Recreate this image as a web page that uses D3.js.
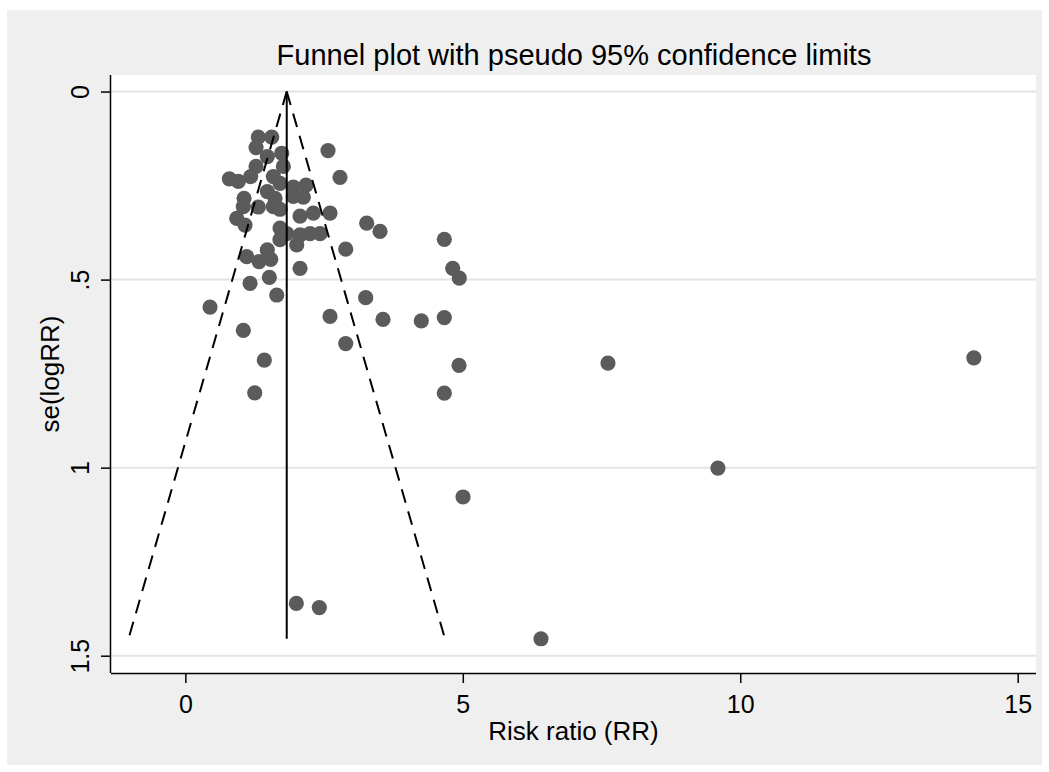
<!DOCTYPE html>
<html>
<head>
<meta charset="utf-8">
<script src="https://cdn.jsdelivr.net/npm/d3@7"></script>
<style>
  html, body { margin: 0; padding: 0; background: #ffffff; }
  svg { display: block; font-family: "Liberation Sans", Arial, sans-serif; }
</style>
</head>
<body>
<svg id="chart" width="1049" height="772"></svg>
<script>
// Study-level risk ratios and their standard errors of log(RR)
const riskRatio = [
  1.315, 1.557, 1.274, 2.571, 1.737, 1.477, 1.766, 1.274, 2.787, 0.793,
  0.955, 1.178, 1.586, 1.706, 1.946, 2.175, 1.477, 1.616, 1.946, 2.126,
  1.058, 1.045, 1.315, 1.586, 1.706, 2.067, 2.306, 2.607, 0.926, 1.076,
  3.268, 3.508, 1.706, 1.827, 2.067, 2.247, 2.427, 1.706, 2.007, 2.890,
  4.667, 1.106, 1.328, 1.477, 1.539, 2.067, 4.818, 4.937, 1.514, 1.166,
  1.647, 3.250, 0.445, 2.607, 3.562, 4.252, 4.667, 1.045, 2.890, 1.423,
  4.932, 7.616, 14.21, 1.250, 4.667, 9.598, 5.004, 2.000, 2.414, 6.409
];
const seLogRR = [
  0.121, 0.121, 0.149, 0.157, 0.164, 0.173, 0.199, 0.199, 0.228, 0.232,
  0.239, 0.226, 0.226, 0.244, 0.254, 0.249, 0.266, 0.284, 0.279, 0.281,
  0.284, 0.306, 0.307, 0.306, 0.313, 0.331, 0.323, 0.323, 0.337, 0.355,
  0.350, 0.372, 0.363, 0.378, 0.381, 0.378, 0.378, 0.394, 0.408, 0.419,
  0.393, 0.439, 0.452, 0.421, 0.446, 0.470, 0.470, 0.496, 0.494, 0.510,
  0.541, 0.548, 0.573, 0.598, 0.606, 0.610, 0.601, 0.635, 0.670, 0.714,
  0.728, 0.722, 0.708, 0.801, 0.802, 1.001, 1.078, 1.361, 1.372, 1.455
];
// Pooled estimate the funnel is centred on
const pooledRR = 1.827;
const zCrit = 1.96;

const xTicks = [0, 5, 10, 15];
const xTickLabels = ["0", "5", "10", "15"];
const yTicks = [0, 0.5, 1, 1.5];
const yTickLabels = ["0", ".5", "1", "1.5"];

const titleText = "Funnel plot with pseudo 95% confidence limits";
const xTitle = "Risk ratio (RR)";
const yTitle = "se(logRR)";

const svg = d3.select("#chart");
const W = 1049, H = 772;

// Graph region (light gray) and plot region (white)
svg.append("rect").attr("x", 7).attr("y", 10).attr("width", 1035).attr("height", 755)
  .attr("fill", "#efefef");

const plot = { left: 111, top: 75, right: 1036, bottom: 673 };
svg.append("rect")
  .attr("x", plot.left).attr("y", plot.top)
  .attr("width", plot.right - plot.left).attr("height", plot.bottom - plot.top)
  .attr("fill", "#ffffff");

const x = d3.scaleLinear().domain([-1.34, 15.33]).range([plot.left, plot.right]);
const y = d3.scaleLinear().domain([-0.044, 1.546]).range([plot.top, plot.bottom]);

// Horizontal grid lines
svg.append("g").selectAll("line").data(yTicks).join("line")
  .attr("x1", plot.left).attr("x2", plot.right)
  .attr("y1", d => y(d)).attr("y2", d => y(d))
  .attr("stroke", "#e4e4e4").attr("stroke-width", 2);

// Study markers
const pts = riskRatio.map((r, i) => ({ rr: r, se: seLogRR[i] }));
svg.append("g").selectAll("circle").data(pts).join("circle")
  .attr("cx", d => x(d.rr)).attr("cy", d => y(d.se))
  .attr("r", 7.6).attr("fill", "#5b5b5b");

// Pseudo 95% confidence limits and pooled estimate line
const maxSe = d3.max(seLogRR);
const seLine = [0, maxSe];
const line = d3.line().x(d => x(d[0])).y(d => y(d[1]));
const gL = svg.append("g").attr("fill", "none").attr("stroke", "#000");
gL.append("path")
  .attr("d", line(seLine.map(s => [pooledRR - zCrit * s, s])))
  .attr("stroke-width", 2).attr("stroke-dasharray", "14,9");
gL.append("path")
  .attr("d", line(seLine.map(s => [pooledRR + zCrit * s, s])))
  .attr("stroke-width", 2).attr("stroke-dasharray", "14,9");
gL.append("path")
  .attr("d", line(seLine.map(s => [pooledRR, s])))
  .attr("stroke-width", 2);

// Axes
const xAxis = d3.axisBottom(x).tickValues(xTicks)
  .tickFormat((d, i) => xTickLabels[i]).tickSize(10).tickPadding(4);
const gx = svg.append("g").attr("transform", `translate(0,${plot.bottom})`).call(xAxis);
gx.select(".domain").attr("d", `M${plot.left},0.5H${plot.right}`).attr("stroke-width", 1.5);
gx.selectAll(".tick line").attr("stroke-width", 1.5);
gx.selectAll(".tick text").attr("font-size", 25).attr("fill", "#000")
  .attr("dy", null).attr("y", 39.5);

const yAxis = d3.axisLeft(y).tickValues(yTicks)
  .tickFormat((d, i) => yTickLabels[i]).tickSize(10);
const gy = svg.append("g").attr("transform", `translate(${plot.left},0)`).call(yAxis);
gy.select(".domain").attr("d", `M-0.5,${plot.top}V${plot.bottom}`).attr("stroke-width", 1.5);
gy.selectAll(".tick line").attr("stroke-width", 1.5);
gy.selectAll(".tick text").attr("font-size", 25).attr("fill", "#000")
  .attr("x", null).attr("dy", null)
  .attr("text-anchor", "middle")
  .attr("transform", "translate(-22,0) rotate(-90)");

// Titles
svg.append("text").attr("x", 574).attr("y", 65).attr("text-anchor", "middle")
  .attr("font-size", 29).attr("fill", "#000").text(titleText);
svg.append("text").attr("x", (plot.left + plot.right) / 2).attr("y", 740)
  .attr("text-anchor", "middle").attr("font-size", 26).attr("fill", "#000").text(xTitle);
svg.append("text")
  .attr("transform", `translate(59,${(plot.top + plot.bottom) / 2}) rotate(-90)`)
  .attr("text-anchor", "middle").attr("font-size", 26).attr("fill", "#000").text(yTitle);
</script>
</body>
</html>
